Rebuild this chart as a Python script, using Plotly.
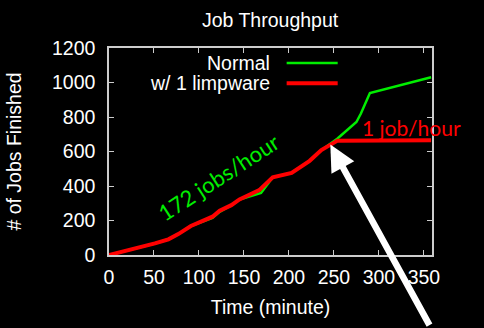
import plotly.graph_objects as go

# Data
normal_x = [0, 18, 36, 51, 66, 77, 91, 103, 115, 123, 136, 145, 158, 169, 182, 203, 223, 236, 254, 265, 275, 280, 290, 358]
normal_y = [0, 23, 48, 67, 91, 121, 168, 193, 215, 250, 289, 322, 341, 360, 450, 476, 546, 608, 675, 725, 771, 820, 939, 1030]
limp_x = [0, 18, 36, 51, 66, 77, 91, 103, 115, 123, 136, 145, 158, 167, 182, 203, 223, 236, 254, 358]
limp_y = [0, 23, 48, 67, 91, 121, 168, 193, 222, 257, 289, 322, 353, 376, 450, 476, 546, 608, 663, 665]

x_ticks = [0, 50, 100, 150, 200, 250, 300, 350]
y_ticks = [0, 200, 400, 600, 800, 1000, 1200]

GREEN = "#00ee00"
RED = "#ff0000"
FONT = "Liberation Sans, Arial, sans-serif"

fig = go.Figure()
fig.add_trace(go.Scatter(x=normal_x, y=normal_y, mode="lines", name="Normal",
                         line=dict(color=GREEN, width=2.5)))
fig.add_trace(go.Scatter(x=limp_x, y=limp_y, mode="lines", name="w/ 1 limpware",
                         line=dict(color=RED, width=4)))

axis_common = dict(
    showgrid=False, zeroline=False, showline=True, mirror="allticks",
    linecolor="#cccccc", linewidth=1.5, ticks="inside", ticklen=5,
    tickcolor="#cccccc", tickwidth=1,
    tickfont=dict(color="white", size=19.5, family=FONT),
)

fig.update_layout(
    width=484, height=328,
    paper_bgcolor="black", plot_bgcolor="black",
    margin=dict(l=109, r=52, t=48, b=73),
    showlegend=False,
    font=dict(family=FONT, color="white", size=19.5),
    title=dict(text="Job Throughput", x=0.558, xanchor="center", y=0.94, yanchor="middle",
               font=dict(size=19.5, color="white", family=FONT)),
    xaxis=dict(range=[0, 359], tickvals=x_ticks, ticklabelstandoff=4,
               title=dict(text="Time (minute)", standoff=13,
                          font=dict(size=19.5, color="white", family=FONT)),
               **axis_common),
    yaxis=dict(range=[0, 1200], tickvals=y_ticks, ticklabelstandoff=8,
               title=dict(text="# of Jobs Finished", standoff=25,
                          font=dict(size=19.5, color="white", family=FONT)),
               **axis_common),
)

# Legend drawn manually (text right-aligned, line sample to the right)
legend_items = [("Normal", GREEN, 2.5, 0.927), ("w/ 1 limpware", RED, 4, 0.83)]
for label, color, w, yy in legend_items:
    fig.add_annotation(x=0.505, y=yy, xref="paper", yref="paper", text=label,
                       showarrow=False, xanchor="right", yanchor="middle",
                       font=dict(size=19.5, color="white", family=FONT))
    fig.add_shape(type="line", xref="paper", yref="paper",
                  x0=0.55, x1=0.708, y0=yy, y1=yy, line=dict(color=color, width=w))

# Rate annotations
fig.add_annotation(x=121, y=452, text="172 jobs/hour", showarrow=False, textangle=-33,
                   font=dict(size=22, color=GREEN, family="Lato, sans-serif"))
fig.add_annotation(x=336, y=740, text="1 job/hour", showarrow=False,
                   font=dict(size=21, color=RED, family="Lato, sans-serif"))

# Arrow pointing to the divergence point
fig.add_annotation(x=246, y=640, ax=100, ay=182, text="", showarrow=True,
                   arrowhead=2, arrowsize=0.8, arrowwidth=6.5, arrowcolor="white")

fig.write_html("out.html")
